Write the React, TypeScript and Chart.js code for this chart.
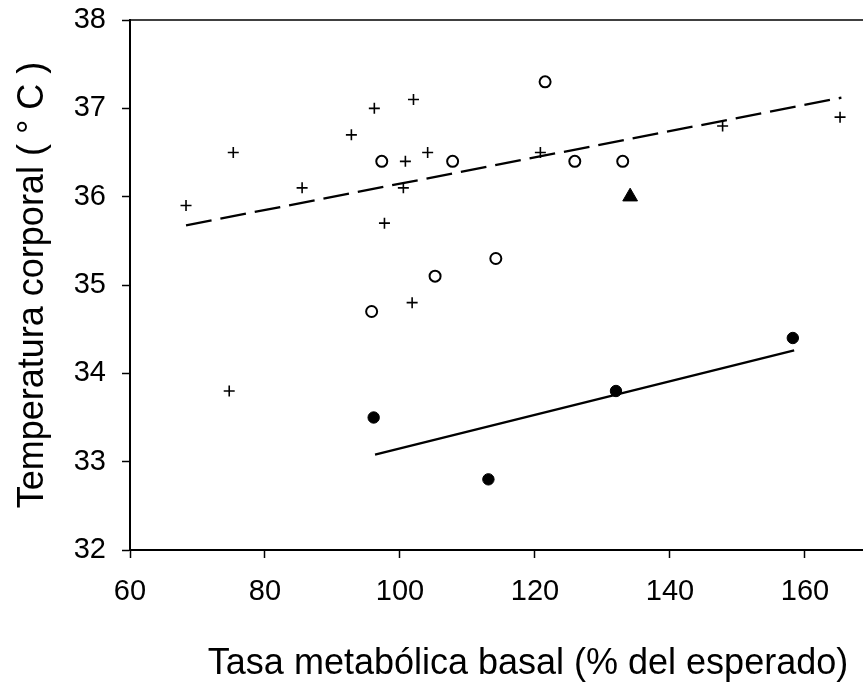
import React, { useEffect, useRef } from "react";
import { Chart, registerables } from "chart.js";

Chart.register(...registerables);

const xTicks = [60, 80, 100, 120, 140, 160];
const yTicks = [32, 33, 34, 35, 36, 37, 38];

const plusX = [68.3, 74.7, 75.3, 85.5, 92.8, 96.2, 97.7, 100.5, 100.8, 101.8, 102.0, 104.1, 120.8, 147.8, 165.2];
const plusY = [35.9, 33.8, 36.5, 36.1, 36.7, 37.0, 35.7, 36.1, 36.4, 34.8, 37.1, 36.5, 36.5, 36.8, 36.9];

const openX = [95.8, 97.3, 105.2, 107.8, 114.2, 121.5, 125.9, 133.0];
const openY = [34.7, 36.4, 35.1, 36.4, 35.3, 37.3, 36.4, 36.4];

const filledX = [96.1, 113.1, 132.0, 158.2];
const filledY = [33.5, 32.8, 33.8, 34.4];

const triX = [134.1];
const triY = [36.0];

const dashedX = [68.3, 165.4];
const dashedY = [35.675, 37.12];

const solidX = [96.3, 158.4];
const solidY = [33.08, 34.26];

const xTitle = "Tasa metabólica basal (% del esperado)";
const yTitle = "Temperatura corporal ( ° C )";

const FONT = "'Liberation Sans', Arial, Helvetica, sans-serif";

const zip = (xs: number[], ys: number[]) => xs.map((x, i) => ({ x, y: ys[i] }));

const frame = {
  id: "frame",
  afterDraw(chart: any) {
    const { ctx, chartArea } = chart;
    ctx.save();
    ctx.strokeStyle = "#000";
    ctx.lineWidth = 1.5;
    ctx.beginPath();
    ctx.moveTo(chartArea.left, chartArea.top);
    ctx.lineTo(chartArea.right, chartArea.top);
    ctx.stroke();
    // x-axis title, placed slightly right of the plot centre as in the reference
    ctx.fillStyle = "#000";
    ctx.font = `36px ${FONT}`;
    ctx.textAlign = "center";
    ctx.textBaseline = "middle";
    const cx = chartArea.left + (chartArea.right - chartArea.left) * 0.543;
    ctx.fillText(xTitle, cx, chartArea.bottom + 114);
    ctx.restore();
  },
};

export default function App() {
  const ref = useRef<HTMLCanvasElement | null>(null);

  useEffect(() => {
    if (!ref.current) return;
    const chart = new Chart(ref.current, {
      type: "scatter",
      data: {
        datasets: [
          {
            data: zip(dashedX, dashedY),
            showLine: true,
            borderColor: "#000",
            borderWidth: 2.3,
            borderDash: [26, 9],
            pointRadius: 0,
            fill: false,
          },
          {
            data: zip(solidX, solidY),
            showLine: true,
            borderColor: "#000",
            borderWidth: 2.3,
            pointRadius: 0,
            fill: false,
          },
          {
            data: zip(plusX, plusY),
            pointStyle: "cross",
            pointRadius: 5.5,
            pointBorderWidth: 1.6,
            borderColor: "#000",
            backgroundColor: "#000",
          },
          {
            data: zip(openX, openY),
            pointStyle: "circle",
            pointRadius: 5.5,
            pointBorderWidth: 2,
            borderColor: "#000",
            backgroundColor: "#fff",
          },
          {
            data: zip(filledX, filledY),
            pointStyle: "circle",
            pointRadius: 5.7,
            pointBorderWidth: 1,
            borderColor: "#000",
            backgroundColor: "#000",
          },
          {
            data: zip(triX, triY),
            pointStyle: "triangle",
            pointRadius: 8.5,
            pointBorderWidth: 1,
            borderColor: "#000",
            backgroundColor: "#000",
          },
        ],
      },
      plugins: [frame],
      options: {
        responsive: false,
        animation: false,
        devicePixelRatio: 1,
        layout: { autoPadding: false, padding: { top: 20, right: 0, bottom: 0, left: 0 } },
        plugins: {
          legend: { display: false },
          tooltip: { enabled: false },
        },
        scales: {
          x: {
            type: "linear",
            min: 60,
            max: 168.6,
            afterBuildTicks: (scale: any) => {
              scale.ticks = xTicks.map((v) => ({ value: v }));
            },
            afterFit: (scale: any) => {
              scale.height = 133;
              scale.paddingLeft = 0;
              scale.paddingRight = 0;
            },
            grid: {
              drawOnChartArea: false,
              drawTicks: true,
              tickLength: 8,
              tickWidth: 1.5,
              tickColor: "#000",
            },
            border: { display: true, color: "#000", width: 2 },
            ticks: {
              color: "#000",
              padding: 17,
              maxRotation: 0,
              font: { family: FONT, size: 29 },
            },
            title: { display: false },
          },
          y: {
            type: "linear",
            min: 32,
            max: 38,
            afterBuildTicks: (scale: any) => {
              scale.ticks = yTicks.map((v) => ({ value: v }));
            },
            afterFit: (scale: any) => {
              scale.width = 130;
              scale.paddingTop = 0;
              scale.paddingBottom = 0;
            },
            grid: {
              drawOnChartArea: false,
              drawTicks: true,
              tickLength: 8,
              tickWidth: 1.5,
              tickColor: "#000",
            },
            border: { display: true, color: "#000", width: 2 },
            ticks: {
              color: "#000",
              padding: 16,
              font: { family: FONT, size: 29 },
            },
            title: {
              display: true,
              text: yTitle,
              color: "#000",
              font: { family: FONT, size: 36, lineHeight: 1 },
              padding: { top: 15, bottom: 0 },
            },
          },
        },
      },
    });
    return () => chart.destroy();
  }, []);

  return (
    <div style={{ position: "absolute", left: 0, top: 0, width: 863, height: 683, background: "#fff" }}>
      <canvas ref={ref} width={863} height={683} style={{ display: "block" }} />
    </div>
  );
}
